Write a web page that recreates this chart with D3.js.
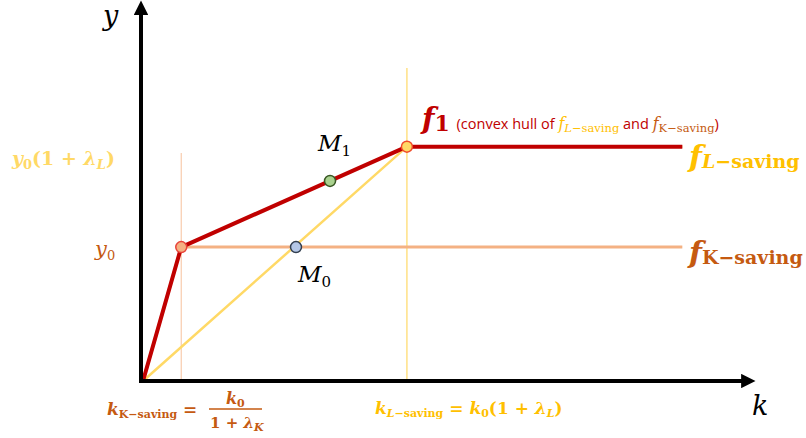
<!DOCTYPE html>
<html>
<head>
<meta charset="utf-8">
<script src="https://cdn.jsdelivr.net/npm/d3@7"></script>
<style>
  body { margin: 0; background: #fff; }
  text { font-family: "DejaVu Serif", serif; }
</style>
</head>
<body>
<script>
const W = 806, H = 438

// abstract units: k0 = 4, y0 = 1
const kTicks = { kK: 1, k0: 4, kL: 6.9, kEnd: 14.1 }
const yTicks = { y0: 1, y1: 1.75 }
const hull = [[0, 0], [1, 1], [6.9, 1.75], [14.1, 1.75]]
const lSaving = [[0, 0], [6.9, 1.75], [14.1, 1.75]]
const kSaving = [[0, 0], [1, 1], [14.1, 1]]
const pts = [
  { name: 'K', k: 1, y: 1, fill: '#F4B183', stroke: '#E8443A' },
  { name: 'L', k: 6.9, y: 1.75, fill: '#FFD966', stroke: '#F04A2A' },
  { name: 'M1', k: 4.89, y: 1.494, fill: '#A9D18E', stroke: '#385723' },
  { name: 'M0', k: 4, y: 1, fill: '#B4C7E7', stroke: '#333F50' }
]

const svg = d3.select('body').append('svg')
  .attr('width', W)
  .attr('height', H)

const x = d3.scaleLinear().domain([0, 16]).range([143, 755])
const y = d3.scaleLinear().domain([0, 2.8]).range([381, 6])

const defs = svg.append('defs')
defs.append('marker')
  .attr('id', 'arrow')
  .attr('viewBox', '0 0 10 10')
  .attr('refX', 2).attr('refY', 5)
  .attr('markerWidth', 3.6).attr('markerHeight', 3.6)
  .attr('orient', 'auto')
  .append('path').attr('d', 'M0,0 L10,5 L0,10 z').attr('fill', '#000')

// guide lines
svg.append('line')
  .attr('x1', x(kTicks.kK)).attr('x2', x(kTicks.kK))
  .attr('y1', 153).attr('y2', y(0))
  .attr('stroke', '#F8CBAD').attr('stroke-width', 1.2)
svg.append('line')
  .attr('x1', x(kTicks.kL)).attr('x2', x(kTicks.kL))
  .attr('y1', 68).attr('y2', y(0))
  .attr('stroke', '#FFD966').attr('stroke-width', 1.2)

const line = d3.line().x(d => x(d[0])).y(d => y(d[1]))

svg.append('path').attr('d', line(kSaving))
  .attr('fill', 'none').attr('stroke', '#F4B183').attr('stroke-width', 3)
svg.append('path').attr('d', line(lSaving))
  .attr('fill', 'none').attr('stroke', '#FFD966').attr('stroke-width', 2.5)
svg.append('path').attr('d', line(hull))
  .attr('fill', 'none').attr('stroke', '#C00000').attr('stroke-width', 4)
  .attr('stroke-linejoin', 'round')

// axes
svg.append('line')
  .attr('x1', 141).attr('y1', 383).attr('x2', 141).attr('y2', 12)
  .attr('stroke', '#000').attr('stroke-width', 4)
  .attr('marker-end', 'url(#arrow)')
svg.append('line')
  .attr('x1', 139).attr('y1', 381).attr('x2', 744).attr('y2', 381)
  .attr('stroke', '#000').attr('stroke-width', 4)
  .attr('marker-end', 'url(#arrow)')

svg.selectAll('circle.pt')
  .data(pts)
  .enter()
  .append('circle')
  .attr('class', 'pt')
  .attr('cx', d => x(d.k))
  .attr('cy', d => y(d.y))
  .attr('r', 5.5)
  .attr('fill', d => d.fill)
  .attr('stroke', d => d.stroke)
  .attr('stroke-width', 1.5)

// helper: text with tspans [text, {style}]
function rich(px, py, parts, base) {
  const t = svg.append('text').attr('x', px).attr('y', py)
  Object.entries(base || {}).forEach(([k, v]) => t.style(k, v))
  parts.forEach(p => {
    const s = t.append('tspan').text(p[0])
    Object.entries(p[1] || {}).forEach(([k, v]) => {
      if (k === 'dy' || k === 'dx') s.attr(k, v)
      else s.style(k, v)
    })
  })
  return t
}

const it = { 'font-style': 'italic' }
const sans = '"Open Sans", sans-serif'

// axis labels
rich(103, 25, [['y', it]], { 'font-size': '27px' })
rich(752, 415, [['k', it]], { 'font-size': '27px' })

// y ticks
rich(12, 165, [
  ['y', { 'font-style': 'italic' }],
  ['0', { 'font-size': '13px', dy: 4 }],
  ['(1 + ', { dy: -4 }],
  ['λ', it],
  ['L', { 'font-style': 'italic', 'font-size': '13px', dy: 4 }],
  [')', { dy: -4 }]
], { 'font-size': '19px', 'font-weight': 'bold', fill: '#FFD966' })

rich(95, 256, [
  ['y', it],
  ['0', { 'font-size': '13px', dy: 4 }]
], { 'font-size': '21px', fill: '#C55A11' })

// M labels
rich(318, 151, [['M', it], ['1', { 'font-size': '15px', dy: 5 }]], { 'font-size': '23px', fill: '#000' })
rich(298, 282, [['M', it], ['0', { 'font-size': '15px', dy: 5 }]], { 'font-size': '23px', fill: '#000' })

// f1 label
rich(422, 129, [
  ['f', { 'font-style': 'italic', 'font-weight': 'bold', 'font-size': '29px' }],
  ['1', { 'font-weight': 'bold', 'font-size': '22px', dy: 2 }],
  [' (convex hull of ', { 'font-family': sans, 'font-size': '14.5px', dy: -2, dx: 3 }],
  ['f', { 'font-style': 'italic', fill: '#FFC000', 'font-size': '16px' }],
  ['L', { 'font-style': 'italic', fill: '#FFC000', 'font-size': '11.5px', dy: 3 }],
  ['−saving', { fill: '#FFC000', 'font-size': '11.5px' }],
  [' and ', { 'font-family': sans, 'font-size': '14.5px', dy: -3 }],
  ['f', { 'font-style': 'italic', fill: '#C55A11', 'font-size': '16px' }],
  ['K−saving', { fill: '#C55A11', 'font-size': '11.5px', dy: 3 }],
  [')', { 'font-family': sans, 'font-size': '14.5px', dy: -3 }]
], { fill: '#C00000' })

// right labels
rich(689, 167, [
  ['f', { 'font-style': 'italic', 'font-size': '30px' }],
  ['L', { 'font-style': 'italic', 'font-size': '19px', dy: 1 }],
  ['−saving', { 'font-size': '19px' }]
], { 'font-weight': 'bold', fill: '#FFC000' })

rich(689, 263, [
  ['f', { 'font-style': 'italic', 'font-size': '30px' }],
  ['K−saving', { 'font-size': '19px', dy: 1 }]
], { 'font-weight': 'bold', fill: '#C55A11' })

// k ticks
rich(107, 415, [
  ['k', { 'font-style': 'italic', 'font-size': '17px' }],
  ['K−saving', { 'font-size': '11px', dy: 3 }],
  [' =', { 'font-size': '17px', dy: -3 }]
], { 'font-weight': 'bold', fill: '#C55A11' })
rich(226, 404, [
  ['k', { 'font-style': 'italic', 'font-size': '16px' }],
  ['0', { 'font-size': '11px', dy: 3 }]
], { 'font-weight': 'bold', fill: '#C55A11' })
svg.append('line').attr('x1', 209).attr('x2', 262).attr('y1', 409).attr('y2', 409)
  .attr('stroke', '#C55A11').attr('stroke-width', 1.5)
rich(210, 428, [
  ['1 + ', { 'font-size': '15px' }],
  ['λ', { 'font-style': 'italic', 'font-size': '15px' }],
  ['K', { 'font-style': 'italic', 'font-size': '11px', dy: 3 }]
], { 'font-weight': 'bold', fill: '#C55A11' })

rich(375, 414, [
  ['k', { 'font-style': 'italic', 'font-size': '17px' }],
  ['L', { 'font-style': 'italic', 'font-size': '11px', dy: 3 }],
  ['−saving', { 'font-size': '11px' }],
  [' = ', { 'font-size': '17px', dy: -3 }],
  ['k', { 'font-style': 'italic', 'font-size': '17px' }],
  ['0', { 'font-size': '11px', dy: 3 }],
  ['(1 + ', { 'font-size': '17px', dy: -3 }],
  ['λ', { 'font-style': 'italic', 'font-size': '17px' }],
  ['L', { 'font-style': 'italic', 'font-size': '11px', dy: 3 }],
  [')', { 'font-size': '17px', dy: -3 }]
], { 'font-weight': 'bold', fill: '#FFC000' })
</script>
</body>
</html>
